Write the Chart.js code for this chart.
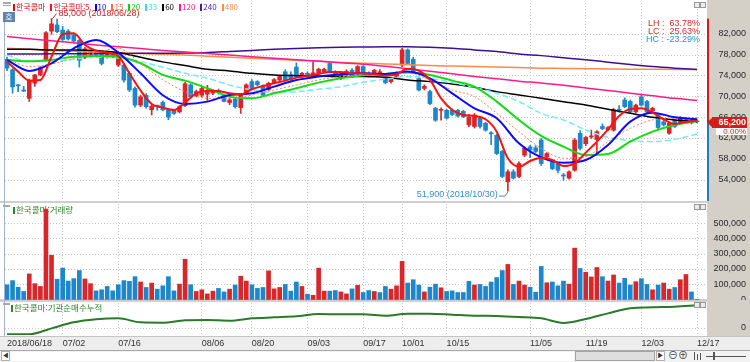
<!DOCTYPE html>
<html lang="ko">
<head>
<meta charset="utf-8">
<title>한국콜마</title>
<script src="https://cdn.jsdelivr.net/npm/chart.js@4.4.1/dist/chart.umd.min.js"></script>
<style>
  html, body { margin: 0; padding: 0; background: #d4d0c8; }
  #wrap { position: relative; width: 750px; height: 362px; overflow: hidden; background: #d4d0c8; font-family: "Liberation Sans", Arial, sans-serif; }
  .abs { position: absolute; }
  canvas { position: absolute; left: 0; }
  .kr { position: absolute; font-family: "Noto Sans CJK KR", "Noto Sans", sans-serif; font-size: 8.5px; line-height: 10px; white-space: nowrap; }
  .kr i { display: inline-block; width: 2px; height: 7px; margin-right: 1px; vertical-align: -1px; }
  #legend { position: absolute; left: 13px; top: 2px; display: flex; gap: 5px; }
  #legend .kr { position: static; font-size: 8px; }
  .stat { position: absolute; left: 630px; width: 70px; text-align: right; font-size: 9px; line-height: 9px; white-space: pre; }
  .ico { position: absolute; width: 4px; height: 4px; border: 1px solid #9a9a9a; background: #ececec; }
</style>
</head>
<body>
<div id="wrap">
  <!-- panel backgrounds -->
  <div class="abs" style="left:0;top:0;width:707px;height:336px;background:#fff"></div>
  <div class="abs" style="left:0;top:201px;width:707px;height:2px;background:#cfcfcf"></div>
  <div class="abs" style="left:0;top:299px;width:707px;height:3px;background:#cfcfcf"></div>
  <div class="abs" style="left:4px;top:22px;width:1px;height:314px;background:#9fb4cf"></div>
  <div class="abs" style="left:0;top:336px;width:750px;height:14px;background:#ededed;border-top:1px solid #c4c4c4;box-sizing:border-box"></div>

  <canvas id="cPrice" width="750" height="202" style="top:0"></canvas>
  <canvas id="cVol" width="750" height="98" style="top:202px"></canvas>
  <canvas id="cInst" width="750" height="50" style="top:300px"></canvas>

  <!-- price legend -->
  <div class="abs" style="left:3px;top:2px;width:8px;height:2px;background:#a8a8a8"></div>
  <div class="abs" style="left:3px;top:5px;width:8px;height:1px;background:#a8a8a8"></div>
  <div id="legend">
    <span class="kr" style="color:#d01010"><i style="background:#d01010"></i>한국콜마</span>
    <span class="kr" style="color:#e01818"><i style="background:#e01818"></i>한국콜마:5</span>
    <span class="kr" style="color:#0000ff"><i style="background:#0000ff"></i>10</span>
    <span class="kr" style="color:#ff6a4a"><i style="background:#ff6a4a"></i>15</span>
    <span class="kr" style="color:#10d010"><i style="background:#10d010"></i>20</span>
    <span class="kr" style="color:#40d8e8"><i style="background:#40d8e8"></i>33</span>
    <span class="kr" style="color:#000"><i style="background:#000"></i>60</span>
    <span class="kr" style="color:#ff1a8c"><i style="background:#ff1a8c"></i>120</span>
    <span class="kr" style="color:#4a1a9a"><i style="background:#4a1a9a"></i>240</span>
    <span class="kr" style="color:#ff8a4a"><i style="background:#ff8a4a"></i>480</span>
  </div>
  <div class="kr" style="left:3px;top:12px;width:12px;height:10px;background:#5f84b0;color:#fff;text-align:center;font-size:8px">호</div>

  <div class="stat" style="top:19px;color:#d62a2a">LH :  63.78%</div>
  <div class="stat" style="top:27px;color:#d62a2a">LC :  25.63%</div>
  <div class="stat" style="top:35px;color:#2f8ccc">HC : -23.29%</div>

  <div class="ico" style="left:694px;top:2px"></div><div class="ico" style="left:700px;top:2px"></div>
  <div class="ico" style="left:694px;top:204px"></div><div class="ico" style="left:700px;top:204px"></div>
  <div class="ico" style="left:694px;top:302px"></div><div class="ico" style="left:700px;top:302px"></div>

  <!-- sub panel legends -->
  <div class="abs" style="left:3px;top:205px;width:7px;height:2px;background:#a8a8a8"></div>
  <div class="kr" style="left:13px;top:204px;color:#2a8a2a"><i style="background:#2a8a2a"></i>한국콜마:거래량</div>
  <div class="abs" style="left:3px;top:303px;width:7px;height:2px;background:#a8a8a8"></div>
  <div class="kr" style="left:11px;top:302px;color:#2a8a2a"><i style="background:#2a8a2a"></i>한국콜마:기관순매수누적</div>

  <!-- scroll bar -->
  <div class="abs" style="left:0;top:350px;width:750px;height:12px;background:#f2f2f2;border-top:1px solid #a9a9a9;box-sizing:border-box"></div>
  <div class="abs" style="left:1px;top:351px;width:9px;height:10px;border:1px solid #b0b0b0;box-sizing:border-box;background:#fff;font-size:7px;line-height:8px;text-align:center;color:#333">◀</div>
  <div class="abs" style="left:11px;top:352px;width:563px;height:9px;background:#fff"></div>
  <div class="abs" style="left:575px;top:351px;width:80px;height:10px;background:#dedede;border:1px solid #a5a5a5;box-sizing:border-box"></div>
  <div class="abs" style="left:656px;top:351px;width:9px;height:10px;border:1px solid #b0b0b0;box-sizing:border-box;background:#fff;font-size:7px;line-height:8px;text-align:center;color:#333">▶</div>
  <div class="abs" style="left:668px;top:350px;font-size:10px;line-height:12px;color:#444">⊖⊕</div>
  <div class="abs" style="left:694px;top:352px;width:1px;height:8px;background:#555"></div>
  <div class="abs" style="left:697px;top:354px;width:1px;height:6px;background:#555"></div>
  <div class="abs" style="left:700px;top:353px;width:1px;height:7px;background:#555"></div>
  <div class="abs" style="left:706px;top:356px;width:40px;height:1px;background:#555"></div>
  <div class="abs" style="left:713px;top:352px;width:2px;height:8px;background:#555"></div>
</div>

<script>
// x positions of labelled days (trading-day index) and their labels
const dateTickIdx = [0, 10, 20, 35, 44, 54, 64, 71, 79, 94, 104, 114, 124];
const dateTickLabels = ["2018/06/18", "07/02", "07/16", "08/06", "08/20", "09/03", "09/17", "10/01", "10/15", "11/05", "11/19", "12/03", "12/17"];

// daily candles, 2018/06/18 .. 2018/12/17
const open = [
  77200, 75200, 72200, 71200, 69700, 72600, 74200, 77100, 82600, 83800,
  82800, 82600, 81900, 80800, 77600, 78100, 78400, 78200, 77700, 78300,
  76100, 76100, 74500, 71600, 68400, 70300, 67500, 68300, 68900, 67600,
  67400, 67100, 68300, 72300, 70200, 70300, 70500, 70700, 71200, 70300,
  68900, 69600, 67900, 70700, 72900, 72900, 72100, 71400, 72700, 73200,
  74800, 74200, 75700, 73900, 74500, 73900, 74500, 74800, 76400, 74800,
  73500, 74300, 75100, 74500, 75800, 74500, 74500, 74500, 73500, 72900,
  73900, 76100, 79000, 77200, 73500, 71600, 71000, 67800, 67400, 67400,
  67400, 67400, 67200, 64600, 64300, 65900, 64900, 63000, 62600, 59500,
  53700, 55600, 54700, 58800, 60400, 60200, 61700, 58500, 57500, 57200,
  55000, 54400, 55900, 63000, 61000, 62300, 61800, 64300, 63700, 63600,
  67600, 69400, 69100, 67100, 70000, 69100, 67300, 66500, 65200, 63000,
  65500, 65000, 65200, 65000, 65300
];
const high = [
  77600, 75400, 72400, 72000, 73400, 74300, 75800, 82500, 85000, 84900,
  83500, 82900, 82200, 81000, 79500, 78800, 78700, 78400, 78700, 78600,
  78000, 76300, 74800, 71900, 70300, 70600, 68500, 68400, 69200, 67800,
  67600, 68300, 72800, 72500, 71300, 72000, 72200, 71400, 71500, 70500,
  69800, 69900, 70500, 72500, 73300, 73100, 72300, 72800, 73500, 74100,
  75200, 74800, 76500, 74700, 74800, 76800, 75500, 75500, 76700, 75000,
  74600, 75200, 75400, 76000, 76000, 74800, 75300, 75200, 73700, 73700,
  74800, 79300, 79200, 77600, 73800, 72300, 71300, 68000, 67900, 67600,
  67700, 67600, 67400, 66600, 66800, 66100, 65100, 63300, 62800, 59700,
  56000, 56000, 57500, 60400, 60700, 60600, 62000, 59300, 57700, 57400,
  55300, 55800, 62000, 63500, 62400, 63600, 63500, 64800, 64300, 67800,
  68300, 69800, 69400, 68600, 70300, 69300, 68000, 66700, 65800, 65100,
  65700, 66200, 66000, 65800, 65700
];
const low = [
  75000, 70700, 71000, 71000, 69100, 72000, 74000, 76800, 82000, 82300,
  80800, 80900, 80500, 75700, 77300, 77800, 77800, 76100, 77400, 77500,
  75800, 72800, 71000, 68000, 68100, 67800, 66500, 67400, 67300, 65600,
  66600, 66900, 68100, 69800, 70000, 70000, 69300, 70400, 70500, 69000,
  68500, 67800, 66800, 70500, 71400, 72100, 70000, 71200, 72500, 73000,
  73000, 73100, 73700, 73700, 73800, 73700, 74300, 74600, 74600, 74000,
  73300, 74100, 73700, 74300, 74300, 73800, 74300, 74300, 72500, 72600,
  73700, 75800, 76200, 74600, 71100, 71300, 68500, 65300, 65500, 65700,
  66400, 66100, 66000, 64200, 64000, 64000, 63400, 60800, 58900, 54500,
  51900, 54200, 54500, 58500, 58300, 59300, 56800, 58200, 56000, 55400,
  54000, 54200, 55700, 59800, 60600, 62000, 59200, 63700, 63500, 63400,
  67000, 67900, 66900, 66900, 68200, 66900, 67100, 63900, 64400, 62800,
  64100, 64800, 65000, 64800, 65000
];
const close = [
  75500, 71900, 72100, 71100, 73200, 74200, 75600, 82300, 84000, 82500,
  81000, 81100, 80700, 77000, 79200, 78500, 78100, 76400, 78400, 77800,
  77700, 73200, 71300, 68400, 70000, 68100, 68200, 68200, 67500, 66100,
  66800, 68100, 72500, 70000, 71000, 71600, 71000, 71200, 70800, 69100,
  69400, 68100, 70300, 72300, 71600, 72300, 70300, 72600, 73300, 73900,
  73200, 73300, 73900, 74500, 74000, 74600, 75300, 75300, 74800, 74200,
  74400, 74900, 73900, 75800, 74500, 74000, 75100, 74800, 72700, 73500,
  74600, 79000, 76400, 74800, 71300, 72000, 68700, 65500, 67600, 65900,
  66600, 66300, 66200, 66100, 66500, 64300, 63600, 62900, 59100, 54700,
  55600, 54400, 57200, 60100, 59800, 59500, 57200, 59100, 56200, 55900,
  54800, 55600, 61700, 60100, 62200, 62400, 63300, 63900, 64100, 67500,
  67400, 68100, 67100, 68400, 68400, 67100, 67800, 64100, 64600, 64900,
  64300, 66000, 65600, 65400, 65200
];
const volume = [
  100000, 127000, 84000, 56000, 171000, 107000, 89000, 596000, 293000, 136000,
  209000, 124000, 140000, 193000, 138000, 107000, 60000, 67000, 89000, 60000,
  100000, 127000, 122000, 153000, 118000, 82000, 111000, 71000, 93000, 153000,
  60000, 104000, 267000, 100000, 56000, 67000, 40000, 58000, 76000, 53000,
  71000, 98000, 156000, 124000, 100000, 76000, 82000, 191000, 73000, 82000,
  102000, 58000, 118000, 89000, 38000, 31000, 209000, 58000, 58000, 62000,
  53000, 40000, 73000, 96000, 49000, 62000, 56000, 49000, 89000, 71000,
  93000, 253000, 111000, 133000, 98000, 53000, 84000, 104000, 80000, 56000,
  60000, 49000, 49000, 122000, 98000, 102000, 89000, 118000, 147000, 193000,
  233000, 102000, 124000, 98000, 84000, 51000, 220000, 113000, 118000, 93000,
  124000, 104000, 340000, 207000, 182000, 151000, 213000, 153000, 124000, 164000,
  111000, 142000, 98000, 120000, 140000, 102000, 67000, 98000, 111000, 71000,
  82000, 133000, 167000, 53000, 5000
];
// U = close above previous close, D = not
const volDir = ("DDDDUUUUUD" + "DDDDUUDDDD" + "DDDDUDUDDD" + "DUUDUUUUDD" + "UDUUDDDUUU" +
  "DDDUDUUUDD" + "UUDUDDUDDU" + "UUDDDUDDUD" + "DDDDUDDDDD" + "UDUUDDDUDD" +
  "DUUDUUUDUU" + "DDDUDDUDUU" + "DUUDD").split("");

// moving averages
const ma5Idx = [0, 2, 4, 6, 8, 10, 12, 14, 16, 18, 20, 22, 24, 26, 28, 30, 32, 34, 36, 38, 40,
  42, 44, 46, 48, 50, 52, 54, 56, 58, 60, 62, 64, 66, 68, 70, 72, 74, 76, 78, 80, 82, 84,
  86, 88, 90, 92, 94, 96, 98, 100, 102, 104, 106, 108, 110, 112, 114, 116, 118, 120, 122, 124];
const ma5 = [76750, 74830, 73100, 73230, 77700, 82000, 82200, 79950, 78860, 78480, 77840,
  74510, 71200, 68620, 67920, 67470, 68900, 70670, 71180, 71120, 70670, 70480, 71440,
  72080, 72600, 73100, 73680, 74000, 74380, 74770, 74770, 74510, 74510, 74320, 74060,
  74320, 75400, 75020, 73230, 69710, 67470, 66510, 66320, 65680, 63310, 58190, 56590,
  57680, 58320, 57870, 56720, 57230, 59280, 61390, 63760, 66320, 67660, 67790, 66960,
  65680, 64780, 65170, 65420];
const maIdx = [0, 4, 8, 12, 16, 20, 24, 28, 32, 36, 40, 44, 48, 52, 56, 60, 64, 68, 72, 76,
  80, 84, 88, 92, 96, 100, 104, 108, 112, 116, 120, 124];
const ma10 = [77070, 74960, 76430, 79300, 80900, 78480, 74510, 70300, 68620, 69070, 70350,
  70670, 71950, 73230, 73870, 74320, 74510, 74380, 74830, 73550, 70670, 67790, 65870,
  61070, 58380, 57360, 57870, 60750, 65230, 66960, 66060, 65680];
const ma15 = [77300, 75800, 76300, 77400, 78500, 79300, 76400, 73300, 70990, 69710, 69710,
  70350, 71300, 72270, 73230, 73870, 74130, 74260, 74640, 73230, 71310, 70030, 66830,
  63310, 60110, 58190, 58510, 61390, 63950, 65550, 65870, 66060];
const ma20 = [77100, 76800, 77070, 77700, 77840, 77700, 76430, 74200, 73100, 71630, 70030,
  69700, 70670, 71630, 72720, 73550, 74130, 74380, 74640, 74190, 73100, 71950, 69070,
  65550, 62480, 60430, 58830, 59020, 61390, 63310, 64590, 65360];
const ma33 = [78000, 76750, 76750, 77200, 77580, 77460, 76750, 75660, 74510, 73550, 72270,
  71300, 70860, 70990, 71440, 71950, 72780, 73360, 73870, 73550, 72720, 71820, 70670,
  69070, 66830, 65550, 63630, 62220, 61580, 61390, 61840, 62860];
const ma60 = [79100, 79100, 79000, 79000, 78900, 78500, 77580, 76700, 76000, 75280, 74960,
  74500, 74190, 74060, 74000, 73870, 73870, 73740, 73230, 72910, 72460, 71820, 70990,
  70350, 69710, 69070, 68430, 67600, 66830, 66060, 65550, 65230];
const ma120 = [81550, 81150, 80750, 80350, 79950, 79600, 79250, 78900, 78600, 78300, 78000,
  77700, 77400, 77100, 76850, 76550, 76250, 75850, 75400, 74900, 74400, 73900, 73450,
  73000, 72650, 72200, 71700, 71200, 70700, 70200, 69700, 69300];
const ma240 = [78200, 78200, 78250, 78250, 78300, 78300, 78350, 78350, 78400, 78500, 78700,
  78900, 79100, 79250, 79400, 79500, 79550, 79600, 79600, 79500, 79300, 79000, 78700,
  78200, 77900, 77500, 77100, 76650, 76200, 75800, 75500, 75250];
const ma480 = [79300, 79100, 78900, 78750, 78600, 78450, 78300, 78150, 78000, 77800, 77600,
  77400, 77200, 77000, 76800, 76600, 76450, 76300, 76150, 76000, 75900, 75800, 75700,
  75600, 75500, 75450, 75400, 75350, 75300, 75300, 75250, 75250];

// institutional net buying, cumulative
const instIdx = maIdx;
const instNet = [-127000, -127000, -7000, 113000, 173000, 193000, 113000, 107000, 153000,
  160000, 147000, 193000, 213000, 233000, 280000, 273000, 273000, 247000, 287000, 287000,
  267000, 247000, 240000, 220000, 193000, 100000, 180000, 293000, 393000, 413000, 427000, 453000];

const priceTicks = [54000, 58000, 62000, 66000, 70000, 74000, 78000, 82000];
const volTicks = [0, 100000, 200000, 300000, 400000, 500000];
const instTicks = [0];

const highMark = { idx: 8, value: 85000, date: "2018/06/28" };
const lowMark = { idx: 90, value: 51900, date: "2018/10/30" };

// ---- drawing ----
Chart.defaults.font.family = '"Liberation Sans", Arial, sans-serif';
const RED = "#d9262a", BLUE = "#1c88cb";
const X_MIN = -0.36, X_MAX = 125.43;
const days = close.map((_, i) => i);
const candleColor = days.map(i =>
  close[i] > open[i] ? RED : close[i] < open[i] ? BLUE : (volDir[i] === "U" ? RED : BLUE));
const fmt = v => v.toLocaleString("en-US");

function xScale(showLabels) {
  return {
    type: "linear", min: X_MIN, max: X_MAX, offset: false,
    afterBuildTicks: s => { s.ticks = dateTickIdx.map(v => ({ value: v })); },
    grid: { offset: false, drawTicks: false, lineWidth: 1,
      color: c => (c.tick && c.tick.value === 0) ? "rgba(0,0,0,0)" : "#c4c4c4" },
    border: { display: false, dash: [1, 2] },
    ticks: showLabels
      ? { autoSkip: false, maxRotation: 0, align: "start", padding: 3, color: "#333",
          font: { size: 9 }, callback: (v, i) => dateTickLabels[i] }
      : { display: false },
    afterFit: s => { s.height = showLabels ? 15 : 0; }
  };
}
function yScale(ticks, min, max) {
  return {
    position: "right", min, max,
    afterBuildTicks: s => { s.ticks = ticks.map(v => ({ value: v })); },
    grid: { drawTicks: false, color: "#c4c4c4", lineWidth: 1 },
    border: { display: false, dash: [1, 2] },
    ticks: { display: false },
    afterFit: s => { s.width = 45; }
  };
}
function rightLabels(values) {
  return {
    id: "rightLabels",
    afterDraw(chart) {
      const { ctx } = chart, y = chart.scales.y;
      ctx.save();
      ctx.font = '9px "Liberation Sans", Arial, sans-serif';
      ctx.fillStyle = "#2a2a2a";
      ctx.textAlign = "right";
      ctx.textBaseline = "middle";
      values.forEach(v => ctx.fillText(fmt(v), 746, y.getPixelForValue(v) - 0.5));
      ctx.restore();
    }
  };
}
function maLine(xs, ys, color, width, dash) {
  return {
    type: "line", data: xs.map((x, k) => ({ x, y: ys[k] })),
    borderColor: color, borderWidth: width, borderDash: dash || [],
    pointRadius: 0, cubicInterpolationMode: "monotone", fill: false, order: 1
  };
}
const common = {
  responsive: false, animation: false, events: [],
  plugins: { legend: { display: false }, tooltip: { enabled: false } }
};

const priceDecor = {
  id: "priceDecor",
  afterDraw(chart) {
    const { ctx, chartArea } = chart, x = chart.scales.x, y = chart.scales.y;
    const last = close[close.length - 1];
    const yLast = Math.round(y.getPixelForValue(last));
    ctx.save();
    // high-to-close range bar
    const yHi = y.getPixelForValue(highMark.value);
    ctx.fillStyle = "#d41c1c";
    ctx.fillRect(707, yHi, 2, yLast - yHi);
    ctx.fillStyle = "#1c7cc4";
    ctx.fillRect(707, yLast, 2, chartArea.bottom - yLast);
    // last price tag
    ctx.fillStyle = "#d41c1c";
    ctx.beginPath();
    ctx.moveTo(707, yLast + 0.5); ctx.lineTo(712, yLast - 4); ctx.lineTo(712, yLast + 5);
    ctx.closePath(); ctx.fill();
    ctx.fillRect(712, yLast - 5, 35, 11);
    ctx.font = 'bold 9px "Liberation Sans", Arial, sans-serif';
    ctx.fillStyle = "#fff";
    ctx.textAlign = "right"; ctx.textBaseline = "middle";
    ctx.fillText(fmt(last), 746, yLast + 0.5);
    ctx.fillRect(716, yLast + 6, 31, 7);
    ctx.font = '8px "Liberation Sans", Arial, sans-serif';
    ctx.fillStyle = "#d41c1c";
    ctx.fillText("0.00%", 746, yLast + 9.5);
    // period high
    const hx = x.getPixelForValue(highMark.idx), hy = y.getPixelForValue(highMark.value);
    ctx.strokeStyle = "#d41c1c"; ctx.lineWidth = 1;
    ctx.beginPath(); ctx.moveTo(hx + 1, hy); ctx.lineTo(hx + 5, hy - 5); ctx.stroke();
    ctx.font = '9px "Liberation Sans", Arial, sans-serif';
    ctx.fillStyle = "#d41c1c"; ctx.textAlign = "left";
    ctx.fillText(fmt(highMark.value) + " (" + highMark.date + ")", hx + 7, hy - 5);
    // period low
    const lx = x.getPixelForValue(lowMark.idx), ly = y.getPixelForValue(lowMark.value);
    ctx.strokeStyle = "#3a8cc8";
    ctx.beginPath(); ctx.moveTo(lx - 9, ly + 5); ctx.lineTo(lx - 3, ly + 5); ctx.lineTo(lx, ly + 1); ctx.stroke();
    ctx.fillStyle = "#3a8cc8"; ctx.textAlign = "right";
    ctx.fillText(fmt(lowMark.value) + " (" + lowMark.date + ")", lx - 10, ly + 3);
    ctx.restore();
  }
};

new Chart(document.getElementById("cPrice"), {
  type: "bar",
  data: {
    datasets: [
      maLine(ma5Idx, ma5, "#ff1010", 2),
      maLine(maIdx, ma10, "#0a0aff", 2),
      maLine(maIdx, ma15, "#ff7a5a", 1, [2, 2]),
      maLine(maIdx, ma20, "#14dc14", 2),
      maLine(maIdx, ma33, "#70ecff", 1.5, [6, 3]),
      maLine(maIdx, ma60, "#000000", 1.5),
      maLine(maIdx, ma120, "#ff1a8c", 1.5),
      maLine(maIdx, ma240, "#3c1090", 1.5),
      maLine(maIdx, ma480, "#ff8a4a", 1.5),
      {
        type: "bar", order: 4, grouped: false, barThickness: 4, minBarLength: 1,
        borderWidth: 0, borderSkipped: false,
        data: days.map(i => ({ x: i, y: [open[i], close[i]] })),
        backgroundColor: candleColor
      },
      {
        type: "bar", order: 5, grouped: false, barThickness: 1,
        borderWidth: 0, borderSkipped: false,
        data: days.map(i => ({ x: i, y: [low[i], high[i]] })),
        backgroundColor: candleColor
      }
    ]
  },
  options: {
    ...common,
    layout: { padding: { left: 5, right: 0, top: 3, bottom: 1 } },
    scales: { x: xScale(false), y: yScale(priceTicks, 50000, 88000) }
  },
  plugins: [rightLabels(priceTicks), priceDecor]
});

new Chart(document.getElementById("cVol"), {
  type: "bar",
  data: {
    datasets: [{
      grouped: false, barThickness: 4, borderWidth: 0,
      data: days.map(i => ({ x: i, y: volume[i] })),
      backgroundColor: days.map(i => volDir[i] === "U" ? RED : BLUE)
    }]
  },
  options: {
    ...common,
    layout: { padding: { left: 5, right: 0, top: 2, bottom: 0 } },
    scales: { x: xScale(false), y: yScale(volTicks, 0, 629000) }
  },
  plugins: [rightLabels(volTicks)]
});

new Chart(document.getElementById("cInst"), {
  type: "line",
  data: {
    datasets: [{
      data: instIdx.map((x, k) => ({ x, y: instNet[k] })),
      borderColor: "#2a7a2a", borderWidth: 2, pointRadius: 0,
      cubicInterpolationMode: "monotone", fill: false
    }]
  },
  options: {
    ...common,
    layout: { padding: { left: 5, right: 0, top: 3, bottom: 0 } },
    scales: { x: xScale(true), y: yScale(instTicks, -140000, 500000) }
  },
  plugins: [rightLabels(instTicks)]
});
</script>
</body>
</html>
